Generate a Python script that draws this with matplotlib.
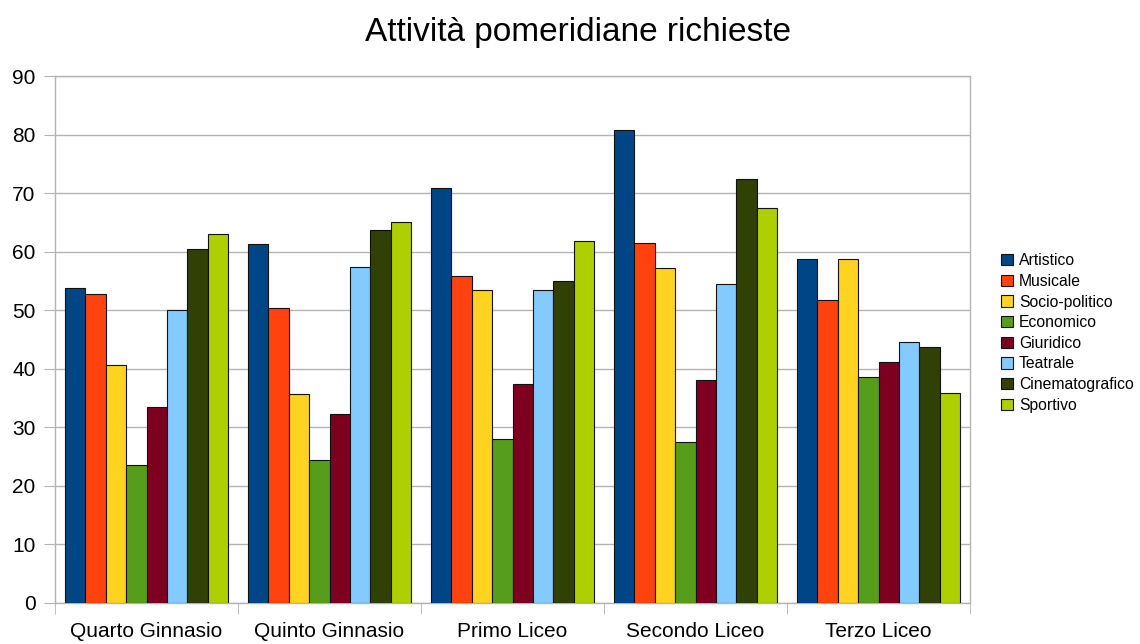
import matplotlib
matplotlib.use("Agg")
import matplotlib.pyplot as plt
import numpy as np

plt.rcParams['font.family'] = ['Liberation Sans', 'DejaVu Sans']

classes = ["Quarto Ginnasio", "Quinto Ginnasio", "Primo Liceo", "Secondo Liceo", "Terzo Liceo"]
activities = ["Artistico", "Musicale", "Socio-politico", "Economico",
              "Giuridico", "Teatrale", "Cinematografico", "Sportivo"]

artistico = [53.8, 61.3, 70.9, 80.7, 58.7]
musicale = [52.7, 50.4, 55.8, 61.4, 51.8]
socio_politico = [40.6, 35.7, 53.5, 57.2, 58.7]
economico = [23.6, 24.5, 28.0, 27.5, 38.6]
giuridico = [33.5, 32.3, 37.4, 38.0, 41.2]
teatrale = [50.0, 57.3, 53.5, 54.4, 44.6]
cinematografico = [60.4, 63.7, 55.0, 72.4, 43.8]
sportivo = [63.1, 65.1, 61.9, 67.5, 35.9]

series = [artistico, musicale, socio_politico, economico,
          giuridico, teatrale, cinematografico, sportivo]
colors = ["#004586", "#ff420e", "#ffd320", "#579d1c",
          "#7e0021", "#83caff", "#314004", "#aecf00"]

fig = plt.figure(figsize=(11.4, 6.44), dpi=100)
ax = fig.add_axes([55 / 1140, 41 / 644, 915 / 1140, 527 / 644])

n = len(series)
group_w = 0.89
w = group_w / n
x = np.arange(len(classes))
handles = []
for i, (vals, c) in enumerate(zip(series, colors)):
    offs = -group_w / 2 + w * (i + 0.5)
    b = ax.bar(x + offs, vals, width=w, color=c, edgecolor="#111111",
               linewidth=0.8, label=activities[i], zorder=3)
    handles.append(b)

ax.set_xlim(-0.5, len(classes) - 0.5)
ax.set_ylim(0, 90)
ax.set_yticks(np.arange(0, 91, 10))
ax.yaxis.grid(True, color="#b3b3b3", linewidth=1.0, zorder=0)
ax.set_axisbelow(True)

ax.set_xticks(x)
ax.set_xticklabels(classes, fontsize=15)
ax.set_xticks(np.arange(-0.5, len(classes) - 0.4, 1), minor=True)
ax.tick_params(axis='x', which='major', length=0, pad=14)
ax.tick_params(axis='x', which='minor', length=8, color="#b3b3b3", direction='out')
ax.tick_params(axis='y', length=8, color="#b3b3b3", pad=6, labelsize=15)

for s in ["left", "bottom", "right", "top"]:
    ax.spines[s].set_color("#b3b3b3")
    ax.spines[s].set_linewidth(1.0)

fig.text(578 / 1140, 1 - 33 / 644, "Attività pomeridiane richieste",
         ha="center", va="center", fontsize=24)

leg = fig.legend(handles=handles, labels=activities, loc="center left",
                 bbox_to_anchor=(1001 / 1140, 1 - 333 / 644), frameon=False,
                 fontsize=11.3, handlelength=0.75, handleheight=0.75,
                 handletextpad=0.4, labelspacing=0.36, borderaxespad=0,
                 borderpad=0)

fig.savefig("out.png", dpi=100)
